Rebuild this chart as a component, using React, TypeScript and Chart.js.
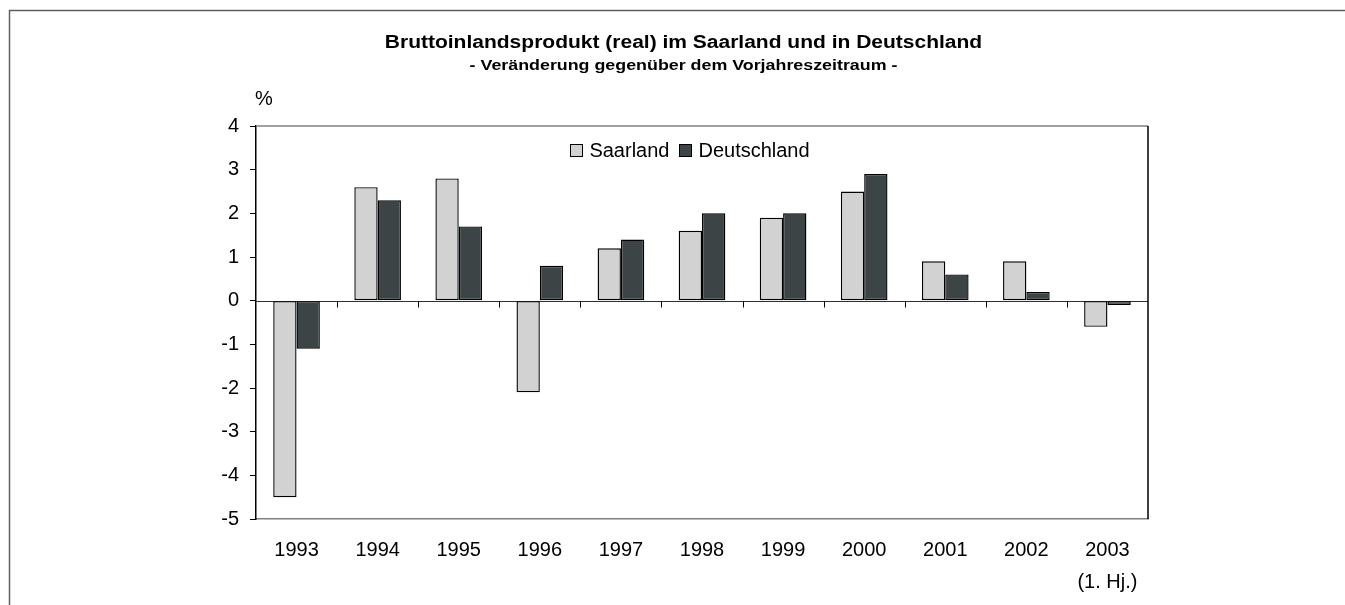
import React, { useEffect, useRef } from "react";
import { Chart, registerables } from "chart.js";

Chart.register(...registerables);

const titleText = "Bruttoinlandsprodukt (real) im Saarland und in Deutschland";
const subtitleText = "- Veränderung gegenüber dem Vorjahreszeitraum -";
const unitLabel = "%";

const categories: (string | string[])[] = [
  "1993", "1994", "1995", "1996", "1997", "1998", "1999", "2000", "2001", "2002",
  ["2003", "(1. Hj.)"],
];
const saarland = [-4.5, 2.6, 2.8, -2.1, 1.2, 1.6, 1.9, 2.5, 0.9, 0.9, -0.6];
const deutschland = [-1.1, 2.3, 1.7, 0.8, 1.4, 2.0, 2.0, 2.9, 0.6, 0.2, -0.1];
const yMin = -5;
const yMax = 4;

const FONT = "'Liberation Sans', Arial, sans-serif";

const decor = {
  id: "decor",
  beforeDatasetsDraw(chart: any) {
    const { ctx, chartArea } = chart;
    const x = chart.scales.x;
    const y = chart.scales.y;
    const y0 = Math.round(y.getPixelForValue(0)) + 0.5;
    ctx.save();
    ctx.strokeStyle = "#303030";
    ctx.lineWidth = 1;
    ctx.beginPath();
    ctx.moveTo(chartArea.left, y0);
    ctx.lineTo(chartArea.right, y0);
    ctx.stroke();
    const n = categories.length;
    ctx.strokeStyle = "#000";
    ctx.beginPath();
    for (let i = 1; i < n; i++) {
      const px = Math.round(x.left + (i * x.width) / n) + 0.5;
      ctx.moveTo(px, y0);
      ctx.lineTo(px, y0 + 6);
    }
    ctx.stroke();
    ctx.restore();
  },
  afterDraw(chart: any) {
    const { ctx, chartArea, width, height } = chart;
    ctx.save();
    ctx.strokeStyle = "#606060";
    ctx.lineWidth = 1.5;
    ctx.beginPath();
    ctx.moveTo(9.5, height);
    ctx.lineTo(9.5, 10.5);
    ctx.lineTo(width, 10.5);
    ctx.stroke();
    ctx.strokeStyle = "#808080";
    ctx.beginPath();
    ctx.moveTo(chartArea.left, chartArea.top);
    ctx.lineTo(chartArea.right, chartArea.top);
    ctx.stroke();
    ctx.strokeStyle = "#000";
    ctx.beginPath();
    ctx.moveTo(chartArea.right, chartArea.top);
    ctx.lineTo(chartArea.right, chartArea.bottom);
    ctx.stroke();

    const cx = width / 2 + 11;
    ctx.fillStyle = "#000";
    ctx.textAlign = "center";
    ctx.textBaseline = "alphabetic";
    ctx.save();
    ctx.translate(cx, 47.5);
    ctx.scale(1.2, 1);
    ctx.font = `bold 17.5px ${FONT}`;
    ctx.fillText(titleText, 0, 0);
    ctx.restore();
    ctx.save();
    ctx.translate(cx, 70);
    ctx.scale(1.23, 1);
    ctx.font = `bold 14.5px ${FONT}`;
    ctx.fillText(subtitleText, 0, 0);
    ctx.restore();

    ctx.font = `20px ${FONT}`;
    ctx.textAlign = "left";
    ctx.textBaseline = "middle";
    ctx.fillText(unitLabel, chartArea.left - 1, chartArea.top - 27);

    const ds = chart.data.datasets;
    const box = 13;
    const gapBT = 6;
    const gapItems = 10;
    ctx.font = `20px ${FONT}`;
    const widths = ds.map((d: any) => ctx.measureText(d.label).width);
    const total = widths.reduce((a: number, w: number) => a + box + gapBT + w, 0) + gapItems * (ds.length - 1);
    let lx = (chartArea.left + chartArea.right) / 2 - 12 - total / 2;
    const ly = chartArea.top + 24;
    ds.forEach((d: any, i: number) => {
      ctx.fillStyle = d.backgroundColor;
      ctx.fillRect(Math.round(lx), Math.round(ly - box / 2), box, box);
      ctx.strokeStyle = "#000";
      ctx.lineWidth = 1;
      ctx.strokeRect(Math.round(lx) + 0.5, Math.round(ly - box / 2) + 0.5, box - 1, box - 1);
      ctx.fillStyle = "#000";
      ctx.textAlign = "left";
      ctx.textBaseline = "middle";
      ctx.fillText(d.label, lx + box + gapBT, ly + 1);
      lx += box + gapBT + widths[i] + gapItems;
    });
    ctx.restore();
  },
};

export default function App() {
  const ref = useRef<HTMLCanvasElement>(null);
  useEffect(() => {
    if (!ref.current) return;
    const chart = new Chart(ref.current, {
      type: "bar",
      data: {
        labels: categories,
        datasets: [
          {
            label: "Saarland",
            data: saarland,
            backgroundColor: "#d2d2d2",
            borderColor: "#000",
            borderWidth: 1.4,
            borderSkipped: false,
          },
          {
            label: "Deutschland",
            data: deutschland,
            backgroundColor: "#3c4446",
            borderColor: "#000",
            borderWidth: 1.4,
            borderSkipped: false,
          },
        ],
      },
      options: {
        responsive: false,
        animation: false,
        events: [],
        layout: { padding: { top: 126, right: 197, left: 0, bottom: 0 } },
        datasets: {
          bar: { categoryPercentage: 0.575, barPercentage: 1 },
        },
        plugins: {
          legend: { display: false },
          title: { display: false },
          tooltip: { enabled: false },
        },
        scales: {
          x: {
            grid: { display: false, drawTicks: false },
            border: { display: true, color: "#808080", width: 1.5 },
            ticks: {
              color: "#000",
              font: { family: FONT, size: 20, lineHeight: 1.6 },
              padding: 15,
              maxRotation: 0,
              autoSkip: false,
            },
            afterFit: (s: any) => {
              s.height = 86;
            },
          },
          y: {
            min: yMin,
            max: yMax,
            grid: { drawOnChartArea: false, drawTicks: true, tickLength: 6, color: "#000" },
            border: { display: true, color: "#000", width: 1.5 },
            ticks: {
              stepSize: 1,
              color: "#000",
              font: { family: FONT, size: 20 },
              padding: 11,
            },
            afterFit: (s: any) => {
              s.width = 256;
            },
          },
        },
      },
      plugins: [decor],
    });
    return () => chart.destroy();
  }, []);
  return (
    <div style={{ position: "absolute", left: 0, top: 0, width: 1345, height: 605, background: "#fff" }}>
      <canvas ref={ref} width={1345} height={605} style={{ display: "block" }} />
    </div>
  );
}
